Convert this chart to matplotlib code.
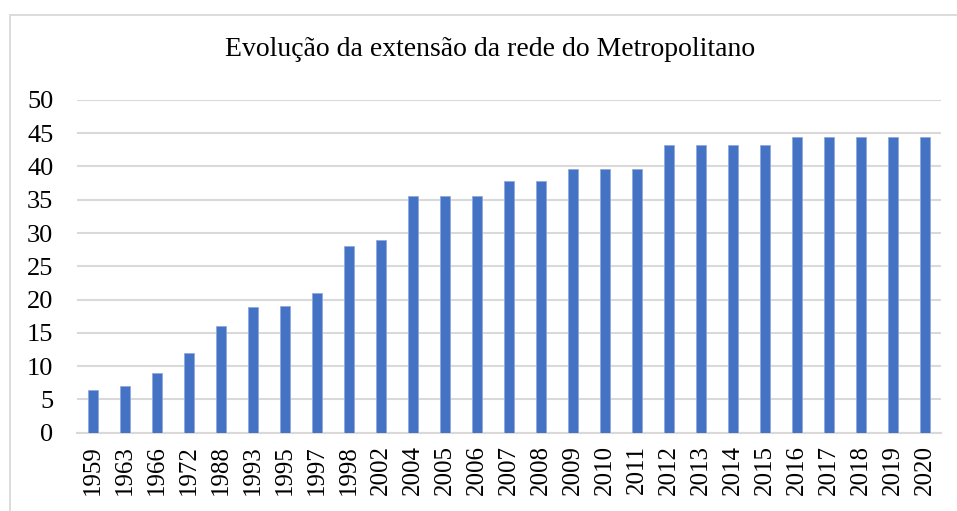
import numpy as np
import matplotlib.pyplot as plt
from matplotlib.patches import Rectangle

# dados
anos = ["1959", "1963", "1966", "1972", "1988", "1993", "1995", "1997", "1998",
        "2002", "2004", "2005", "2006", "2007", "2008", "2009", "2010", "2011",
        "2012", "2013", "2014", "2015", "2016", "2017", "2018", "2019", "2020"]
extensao = [6.4, 7.0, 9.0, 12.0, 16.0, 18.9, 19.0, 21.0, 28.0,
            29.0, 35.6, 35.6, 35.6, 37.8, 37.8, 39.6, 39.6, 39.6,
            43.2, 43.2, 43.2, 43.2, 44.5, 44.5, 44.5, 44.5, 44.5]
y_ticks = [0, 5, 10, 15, 20, 25, 30, 35, 40, 45, 50]

plt.rcParams["font.family"] = ["Liberation Serif", "DejaVu Serif"]

W, H = 957, 511
fig = plt.figure(figsize=(W / 100, H / 100), dpi=100)
ax = fig.add_axes([77 / W, 1 - 432.5 / H, 864 / W, 332.5 / H])

# moldura do grafico
fig.patches.append(Rectangle((9.5 / W, -0.1), 1.1, 1 - 14.5 / H + 0.1,
                             transform=fig.transFigure, fill=False,
                             edgecolor="#d9d9d9", linewidth=1.3))

x = np.arange(len(anos))
ax.bar(x, extensao, width=0.31, color="#4472c4", edgecolor="#8faadc",
       linewidth=0.6, zorder=3)

ax.set_xlim(-0.5, len(anos) - 0.5)
ax.set_ylim(0, 50)
ax.set_yticks(y_ticks)
ax.set_xticks(x)
ax.set_xticklabels(anos, rotation=90)
ax.tick_params(axis="both", length=0, colors="black")
ax.tick_params(axis="y", pad=17, labelsize=19)
ax.tick_params(axis="x", pad=9, labelsize=18)

ax.yaxis.grid(True, color="#d9d9d9", linewidth=1.5, zorder=0)
for s in ["top", "right", "left"]:
    ax.spines[s].set_visible(False)
ax.spines["bottom"].set_color("#d9d9d9")
ax.spines["bottom"].set_linewidth(1.5)

fig.text(490 / W, 1 - 50 / H, "Evolução da extensão da rede do Metropolitano",
         ha="center", va="center", fontsize=20)

fig.savefig("out.png", dpi=100)
